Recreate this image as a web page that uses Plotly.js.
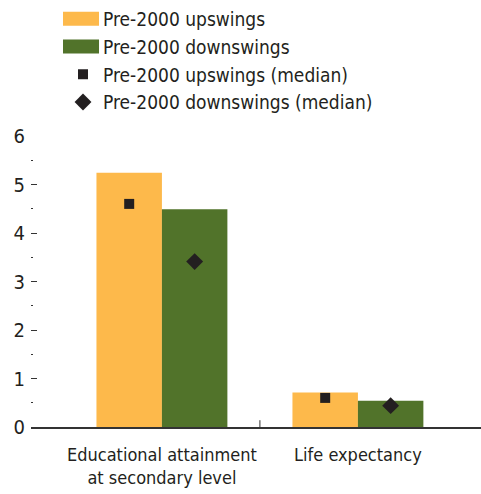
<!DOCTYPE html>
<html><head><meta charset="utf-8">
<script src="https://cdn.plot.ly/plotly-3.0.1.min.js"></script>
<style>html,body{margin:0;padding:0;background:#fff}#chart{width:481px;height:494px}
#chart text{font-stretch:condensed}</style>
</head><body><div id="chart"></div>
<script>
const categories = ["Educational attainment<br>at secondary level", "Life expectancy"];
const upswingMean = [5.24, 0.71];
const downswingMean = [4.49, 0.54];
const upswingMedian = [4.60, 0.60];
const downswingMedian = [3.41, 0.44];
const yTicks = [0, 1, 2, 3, 4, 5, 6];

const FONT = '"DejaVu Sans Condensed", "Liberation Sans Narrow", "Arial Narrow", sans-serif';
const TXT = '#231f20';

const traces = [
  {type:'bar', name:'Pre-2000 upswings', x:categories, y:upswingMean, offsetgroup:'up', alignmentgroup:'a',
   marker:{color:'#fdb94b'}},
  {type:'bar', name:'Pre-2000 downswings', x:categories, y:downswingMean, offsetgroup:'down', alignmentgroup:'a',
   marker:{color:'#51732a'}},
  {type:'scatter', mode:'markers', name:'Pre-2000 upswings (median)', x:categories, y:upswingMedian,
   offsetgroup:'up', alignmentgroup:'a', marker:{symbol:'square', size:10, color:TXT}},
  {type:'scatter', mode:'markers', name:'Pre-2000 downswings (median)', x:categories, y:downswingMedian,
   offsetgroup:'down', alignmentgroup:'a', marker:{symbol:'diamond', size:13, color:TXT}}
];

const layout = {
  width:481, height:494,
  margin:{l:31, r:0, t:136, b:67, autoexpand:false},
  paper_bgcolor:'#fff', plot_bgcolor:'#fff',
  font:{family:FONT, size:18, color:TXT},
  barmode:'group', scattermode:'group', bargap:0.332, bargroupgap:0,
  showlegend:true,
  legend:{xref:'container', yref:'container', x:0.131, y:1.004, xanchor:'left', yanchor:'top',
          traceorder:'normal', font:{family:FONT, size:19, color:TXT}, tracegroupgap:0,
          bgcolor:'rgba(0,0,0,0)', itemwidth:30},
  xaxis:{type:'category', range:[-0.668, 1.628], showline:true, linecolor:'#333', linewidth:2,
         ticks:'', showgrid:false, zeroline:false, ticklabelstandoff:10, automargin:false,
         tickfont:{family:FONT, size:18, color:TXT}},
  yaxis:{range:[0,6], tickvals:yTicks, ticks:'inside', ticklen:6, tickcolor:'#333', tickwidth:1,
         minor:{dtick:0.5, ticks:'inside', ticklen:2, tickcolor:'#333', showgrid:false},
         showline:false, showgrid:false, zeroline:false, fixedrange:true, automargin:false,
         ticklabelstandoff:5, tickfont:{family:FONT, size:20, color:TXT}},
  shapes:[{type:'line', xref:'x', yref:'y', x0:0.5, x1:0.5, y0:0, y1:0.14, line:{color:'#333', width:1}}]
};

const gd = document.getElementById('chart');
function widenSwatches(){
  // widen the bar swatches in the legend to the reference's wide rectangles
  gd.querySelectorAll('.legend .legendpoints path').forEach(function(p){
    const d = p.getAttribute('d') || '';
    if (/^M6,6H-6V-6H6Z$/.test(d.replace(/\s/g,''))) p.setAttribute('d', 'M16,7H-22V-7H16Z');
  });
}
gd.addEventListener && null;
Plotly.newPlot(gd, traces, layout, {displayModeBar:false, staticPlot:true}).then(function(){
  widenSwatches();
  gd.on('plotly_afterplot', widenSwatches);
  setTimeout(widenSwatches, 50);
});
</script></body></html>
